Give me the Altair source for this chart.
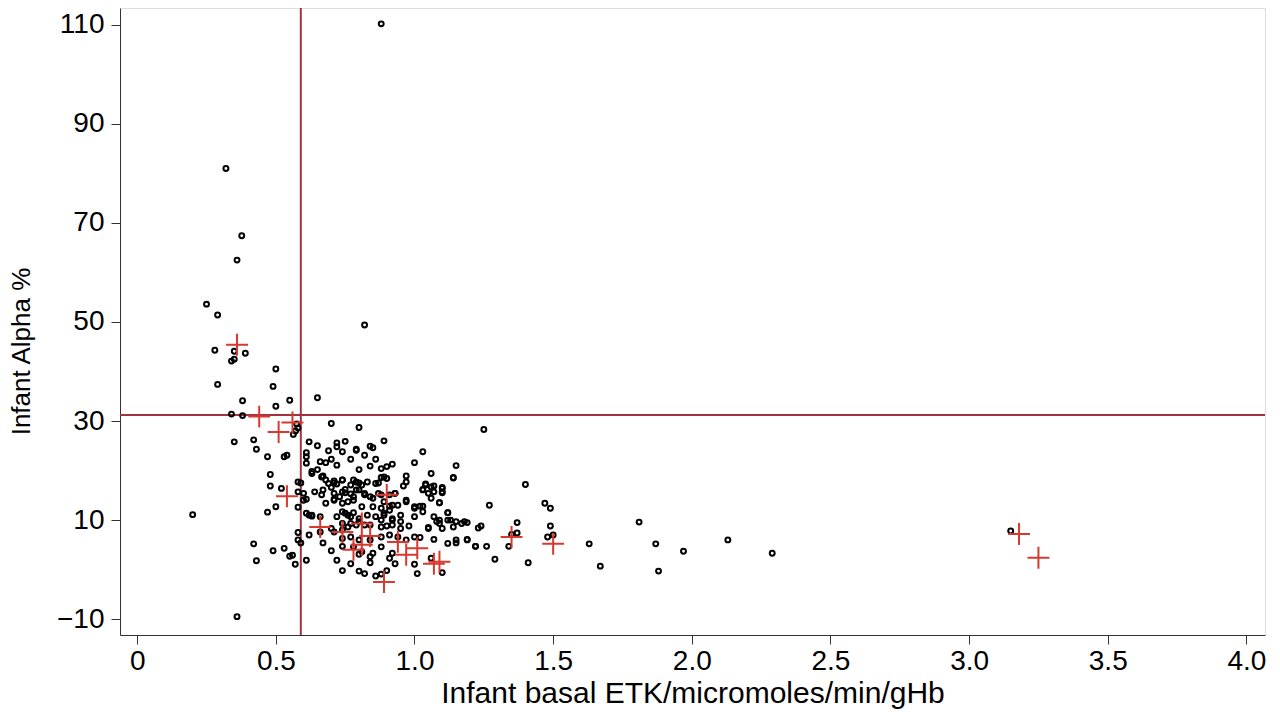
import altair as alt
import pandas as pd

# Black hollow points (infant basal ETK, infant alpha %)
pts_x = [0.88, 0.32, 0.377, 0.36, 0.25, 0.29, 0.82,
         0.28, 0.35, 0.39, 0.34, 0.35, 0.50, 0.29, 0.49, 0.38, 0.55, 0.50, 0.65,
         0.34, 0.38, 0.70, 0.80, 0.575, 0.58, 0.571, 0.563,
         0.35, 0.42, 0.43, 0.62, 0.65, 0.72, 0.75, 0.72, 0.79, 0.84, 0.85,
         0.47, 0.53, 0.54, 0.48, 0.48, 0.52, 0.20, 0.47, 0.50, 0.42, 0.49, 0.53, 0.43, 0.55, 0.56, 0.57, 0.36, 0.58, 0.58, 0.58, 0.58, 0.58,
         0.89, 0.74, 0.79, 0.82, 0.86, 1.03, 0.61, 0.61, 0.69, 0.77, 1.00, 1.15, 0.66, 0.68, 0.70, 0.72, 0.61, 0.80, 0.84, 0.88, 0.90, 0.92, 1.06, 1.14,
         0.63, 0.65, 0.67, 0.68, 0.71, 0.74, 0.78, 0.80, 0.83, 0.86, 0.89, 0.97, 0.97, 0.96, 1.04, 1.07, 1.10, 1.10, 1.03, 1.05, 1.06,
         0.61, 0.64, 0.67, 0.70, 0.71, 0.74, 0.75, 0.77, 0.79, 0.82, 0.84, 0.88, 0.91, 0.93, 0.68, 0.71, 0.74, 0.78, 0.81, 0.85, 0.88, 0.91, 0.94, 0.97, 1.00, 1.03,
         0.62, 0.63, 0.66, 0.72, 0.75, 0.77, 0.80, 0.83, 0.86, 0.89, 0.92, 0.95, 1.00, 1.07, 1.09, 1.13, 1.15, 1.18, 1.19,
         0.74, 0.76, 0.79, 0.82, 0.88, 0.90, 0.92, 0.95, 0.98, 1.05, 1.10, 1.14, 1.23, 0.74, 0.71, 0.66, 0.62, 0.59, 0.67, 0.74, 0.77, 0.80, 0.84, 0.88, 0.91, 0.94, 0.97, 1.00, 1.02, 1.07, 1.12, 1.15, 1.19, 1.22,
         0.70, 0.74, 0.78, 0.81, 0.85, 0.88, 0.92, 0.91, 0.84, 0.80, 0.61, 0.72, 0.77, 0.84, 0.93, 1.00, 1.06, 0.74, 0.80, 0.82, 0.86, 0.88, 0.90, 1.10,
         1.25, 1.40, 1.27, 1.47, 1.49, 1.37, 1.49, 1.48, 1.50, 1.35, 1.37, 1.19, 1.15, 1.22, 1.26, 1.34, 1.29, 1.41, 1.01, 1.12, 1.09, 1.14,
         1.63, 1.67, 1.81, 1.87, 1.88, 1.97, 2.13, 2.29, 3.15,
         0.59, 0.63, 0.665, 0.69, 0.71, 0.72, 0.74, 0.77, 0.79, 0.81, 0.87, 0.88, 0.90, 0.60, 0.60, 0.665, 0.71, 0.73, 0.75, 0.76, 0.78, 0.80, 0.82, 0.85, 0.87, 0.89,
         0.61, 0.63, 0.74, 0.76, 0.78, 0.80, 0.77, 0.70, 0.84, 0.88, 0.89,
         1.04, 1.06, 1.07, 1.03, 1.10, 1.10, 0.93, 0.97, 1.00, 1.02, 1.03, 1.09, 1.12, 1.08, 1.09, 1.12, 1.17, 1.24, 0.92, 0.91, 0.92, 0.95, 1.05]
pts_y = [110.2, 81.0, 67.4, 62.5, 53.6, 51.4, 49.4,
         44.3, 44.1, 43.7, 42.1, 42.5, 40.5, 37.4, 37.0, 34.1, 34.2, 33.0, 34.7,
         31.4, 31.1, 29.5, 28.7, 29.4, 28.6, 28.0, 27.3,
         25.8, 26.2, 24.3, 25.8, 25.0, 25.6, 25.9, 24.8, 24.3, 24.9, 24.6,
         22.8, 22.8, 23.1, 19.2, 16.9, 16.4, 11.1, 11.6, 12.7, 5.2, 3.8, 4.3, 1.8, 2.7, 2.9, 1.1, -9.5, 15.7, 12.6, 6.0, 17.7, 7.5,
         26.0, 23.8, 24.1, 23.1, 22.3, 23.8, 23.6, 22.8, 24.0, 22.3, 21.6, 21.0, 21.8, 21.6, 22.3, 21.1, 21.5, 20.2, 20.9, 20.4, 20.8, 21.3, 19.4, 18.6,
         19.8, 20.2, 18.9, 18.1, 17.5, 18.1, 18.1, 17.5, 17.7, 17.4, 18.7, 18.9, 17.7, 16.9, 17.3, 16.9, 16.6, 15.7, 16.2, 15.4, 14.4,
         14.2, 15.7, 16.1, 16.6, 15.4, 15.7, 16.2, 15.3, 16.1, 15.4, 14.7, 15.1, 15.1, 15.4, 13.4, 14.0, 13.4, 14.0, 12.7, 12.7, 12.4, 12.8, 13.0, 14.0, 12.4, 12.8,
         11.0, 10.8, 10.7, 10.7, 11.4, 10.7, 10.3, 11.0, 10.7, 11.0, 10.3, 11.0, 10.7, 10.7, 10.0, 10.0, 9.7, 9.7, 9.5,
         9.3, 8.6, 9.0, 9.0, 8.6, 8.8, 9.0, 8.3, 8.8, 8.3, 8.3, 8.6, 8.4, 8.0, 7.6, 7.6, 7.0, 5.4, 5.4, 6.3, 6.6, 6.0, 6.0, 6.6, 7.0, 6.6, 6.0, 6.6, 6.5, 6.1, 5.3, 6.0, 6.0, 4.7,
         3.8, 4.7, 4.6, 3.6, 3.3, 4.6, 3.3, 2.3, 2.6, 3.1, 1.9, 1.9, 1.2, 1.4, 1.2, 1.1, 2.3, -0.2, -0.3, -0.8, -1.3, -0.9, -0.2, -0.6,
         28.3, 17.2, 13.0, 13.4, 12.4, 9.5, 8.8, 6.6, 7.0, 7.1, 7.4, 6.1, 5.4, 4.7, 4.7, 4.7, 2.1, 1.4, -0.8, 11.5, 13.5, 18.5,
         5.2, 0.7, 9.6, 5.2, -0.3, 3.7, 6.0, 3.3, 7.8,
         17.5, 19.4, 18.7, 17.4, 17.9, 17.3, 18.1, 17.1, 17.7, 17.1, 17.5, 18.6, 18.4, 15.4, 14.0, 15.1, 14.2, 14.7, 15.5, 13.7, 14.7, 16.1, 15.1, 14.4, 15.4, 13.7,
         11.4, 11.0, 11.7, 11.0, 11.5, 9.7, 9.3, 8.3, 9.0, 10.0, 11.4,
         17.1, 16.7, 15.7, 16.1, 16.4, 15.5, 15.4, 13.7, 12.7, 12.8, 11.7, 13.5, 11.5, 9.7, 9.3, 10.0, 9.3, 8.8, 13.0, 12.0, 10.0, 9.7, 8.5]

# Red plus markers
plus_x = [0.36, 0.44, 0.51, 0.56, 0.54, 0.66, 0.74, 0.81, 0.84, 0.78, 0.81, 0.90,
          0.94, 0.97, 1.01, 1.07, 1.09, 0.89, 1.35, 1.50, 3.18, 3.25]
plus_y = [45.4, 30.9, 27.8, 29.7, 14.8, 8.6, 7.6, 9.3, 6.8, 4.0, 5.0, 15.1,
          5.6, 3.0, 4.3, 1.2, 1.6, -2.5, 6.6, 5.2, 7.2, 2.4]

# Reference lines
vline_x = [0.59]
hline_y = [31.2]

x_ticks = [0, 0.5, 1.0, 1.5, 2.0, 2.5, 3.0, 3.5, 4.0]
y_ticks = [-10, 10, 30, 50, 70, 90, 110]

FONT = "Liberation Sans"

pts = pd.DataFrame({"x": pts_x, "y": pts_y})
plus = pd.DataFrame({"x": plus_x, "y": plus_y})

xscale = alt.Scale(domain=[-0.062, 4.067], nice=False, zero=False)
yscale = alt.Scale(domain=[-13.2, 113.4], nice=False, zero=False)

xaxis = alt.Axis(values=x_ticks, grid=False, title="Infant basal ETK/micromoles/min/gHb",
                 labelExpr="datum.value == 0 ? '0' : format(datum.value, '.1f')",
                 labelFontSize=28, titleFontSize=30, labelFont=FONT, titleFont=FONT,
                 labelColor="black", titleColor="black", titleFontWeight="normal",
                 tickSize=9, tickColor="#333", domainColor="#333", labelPadding=3,
                 titlePadding=3, labelFlush=False)
yaxis = alt.Axis(values=y_ticks, grid=False, title="Infant Alpha %",
                 labelFontSize=28, titleFontSize=26, labelFont=FONT, titleFont=FONT,
                 labelColor="black", titleColor="black", titleFontWeight="normal",
                 tickSize=9, tickColor="#333", domainColor="#333", labelPadding=7,
                 titleX=-86, titleY=343, labelFlush=False)

base_pts = alt.Chart(pts).mark_point(
    shape="circle", filled=False, color="black", size=24, strokeWidth=2, opacity=1
).encode(x=alt.X("x:Q", scale=xscale, axis=xaxis),
         y=alt.Y("y:Q", scale=yscale, axis=yaxis))

vrule = alt.Chart(pd.DataFrame({"x": vline_x})).mark_rule(
    color="#a3323e", strokeWidth=2).encode(x=alt.X("x:Q", scale=xscale))
hrule = alt.Chart(pd.DataFrame({"y": hline_y})).mark_rule(
    color="#a3323e", strokeWidth=2).encode(y=alt.Y("y:Q", scale=yscale))

plus_marks = alt.Chart(plus).mark_point(
    shape="M-1,0L1,0M0,-1L0,1", filled=False, color="#d8392f", size=480,
    strokeWidth=2, opacity=1
).encode(x=alt.X("x:Q", scale=xscale), y=alt.Y("y:Q", scale=yscale))

chart = alt.layer(vrule, hrule, base_pts, plus_marks).properties(
    width=1145, height=627,
    autosize=alt.AutoSizeParams(type="none"),
    padding={"left": 120, "top": 8, "right": 15, "bottom": 83},
).configure_view(stroke=None).configure(background="white")

chart.save("out.html", embed_options={"renderer": "svg", "actions": False})
